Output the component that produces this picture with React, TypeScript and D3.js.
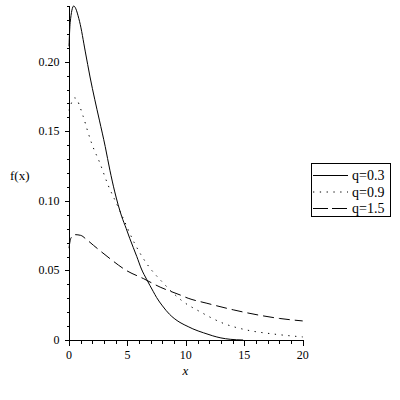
import React from "react";
import * as d3 from "d3";

const xQ03 = [0, 0.1, 0.4, 0.9, 1.4, 1.8, 2.2, 2.6, 3.1, 3.5, 3.9, 4.5, 4.9, 5.2, 5.8, 6.2, 6.65, 7.2, 7.5, 8.0, 8.6, 9.0, 9.5, 10.2, 10.6, 11.5, 12.3, 13.0, 13.8, 14.9];
const yQ03 = [0.211, 0.228, 0.240, 0.229, 0.207, 0.189, 0.173, 0.158, 0.139, 0.122, 0.107, 0.089, 0.080, 0.073, 0.060, 0.051, 0.0435, 0.035, 0.0305, 0.0245, 0.0185, 0.0155, 0.0126, 0.0096, 0.008, 0.0052, 0.003, 0.0015, 0.0005, 0];

const xQ09 = [0, 0.5, 1.2, 1.6, 1.93, 2.65, 3.36, 4.07, 4.5, 5.64, 6.64, 8.06, 9.7, 11.2, 13.2, 15.2, 17.5, 20];
const yQ09 = [0.165, 0.174, 0.161, 0.150, 0.1415, 0.127, 0.111, 0.098, 0.090, 0.069, 0.055, 0.041, 0.028, 0.0204, 0.012, 0.0072, 0.0043, 0.0022];

const xQ15 = [0, 0.15, 0.5, 1.0, 1.5, 2.1, 3.5, 4.9, 6.4, 7.8, 9.5, 10.2, 11.8, 14.1, 16.3, 18, 20];
const yQ15 = [0.066, 0.073, 0.0757, 0.0752, 0.0722, 0.068, 0.0585, 0.050, 0.044, 0.038, 0.0324, 0.030, 0.0264, 0.0216, 0.0178, 0.0155, 0.0137];

const seriesNames = ["q=0.3", "q=0.9", "q=1.5"];
const xMajorTicks = [0, 5, 10, 15, 20];
const yMajorTicks = [0, 0.05, 0.1, 0.15, 0.2];
const yTickLabels = ["0", "0.05", "0.10", "0.15", "0.20"];

const FONT = "'Liberation Serif', 'Times New Roman', serif";

export default function App() {
  const x = d3.scaleLinear().domain([0, 20]).range([69, 302.7]);
  const y = d3.scaleLinear().domain([0, 0.24]).range([340, 6]);
  const ax = 69.5;
  const ay = 340.5;

  const line = d3
    .line<[number, number]>()
    .x((d) => x(d[0]))
    .y((d) => y(d[1]))
    .curve(d3.curveMonotoneX);

  const series = [
    { xs: xQ03, ys: yQ03, dash: undefined as string | undefined },
    { xs: xQ09, ys: yQ09, dash: "1.3,5.5" },
    { xs: xQ15, ys: yQ15, dash: "11,5" },
  ];

  const xMinor = d3.range(0, 21, 1);
  const yMinor = d3.range(0, 25, 1).map((v) => v / 100);

  const legendDash = [undefined, "1.3,5.5", "15,4"];

  return (
    <svg
      width={400}
      height={400}
      style={{ position: "absolute", left: 0, top: 0, background: "#fff" }}
    >
      <rect x={0} y={0} width={400} height={400} fill="#fff" />
      {series.map((s, i) => (
        <path
          key={i}
          d={line(s.xs.map((v, j) => [v, s.ys[j]] as [number, number])) || ""}
          fill="none"
          stroke="#000"
          strokeWidth={1}
          strokeDasharray={s.dash}
        />
      ))}
      <g shapeRendering="crispEdges" stroke="#000" strokeWidth={1}>
        <line x1={ax} x2={ax} y1={ay} y2={Math.round(y(0.24)) + 0.5} />
        <line x1={ax} x2={Math.round(x(20)) + 0.5} y1={ay} y2={ay} />
        {yMinor.map((v) => {
          const major = yMajorTicks.some((m) => Math.abs(m - v) < 1e-9);
          const yy = Math.round(y(v)) + 0.5;
          return <line key={"ym" + v} x1={ax - (major ? 5 : 3)} x2={ax} y1={yy} y2={yy} />;
        })}
        {xMinor.map((v) => {
          const major = xMajorTicks.includes(v);
          const xx = Math.round(x(v)) + 0.5;
          return <line key={"xm" + v} x1={xx} x2={xx} y1={ay} y2={ay + (major ? 5 : 3)} />;
        })}
      </g>
      <g fontFamily={FONT} fontSize={12} fill="#000">
        {yMajorTicks.map((v, i) => (
          <text key={"yl" + v} x={59.5} y={y(v)} textAnchor="end" dominantBaseline="central">
            {yTickLabels[i]}
          </text>
        ))}
        {xMajorTicks.map((v) => (
          <text key={"xl" + v} x={x(v)} y={359} textAnchor="middle">
            {v}
          </text>
        ))}
      </g>
      <text x={10} y={180} fontFamily={FONT} fontSize={13}>
        f(x)
      </text>
      <text x={185.5} y={375} fontFamily={FONT} fontSize={13} fontStyle="italic" textAnchor="middle">
        x
      </text>
      <rect x={311.5} y={163.5} width={79} height={53} fill="#fff" stroke="#000" strokeWidth={1} shapeRendering="crispEdges" />
      {seriesNames.map((n, i) => {
        const yy = 175.5 + i * 16.5;
        return (
          <g key={n}>
            <line x1={313} x2={348} y1={yy} y2={yy} stroke="#000" strokeWidth={1} strokeDasharray={legendDash[i]} />
            <text x={352} y={yy} fontFamily={FONT} fontSize={14} dominantBaseline="central">
              {n}
            </text>
          </g>
        );
      })}
    </svg>
  );
}
